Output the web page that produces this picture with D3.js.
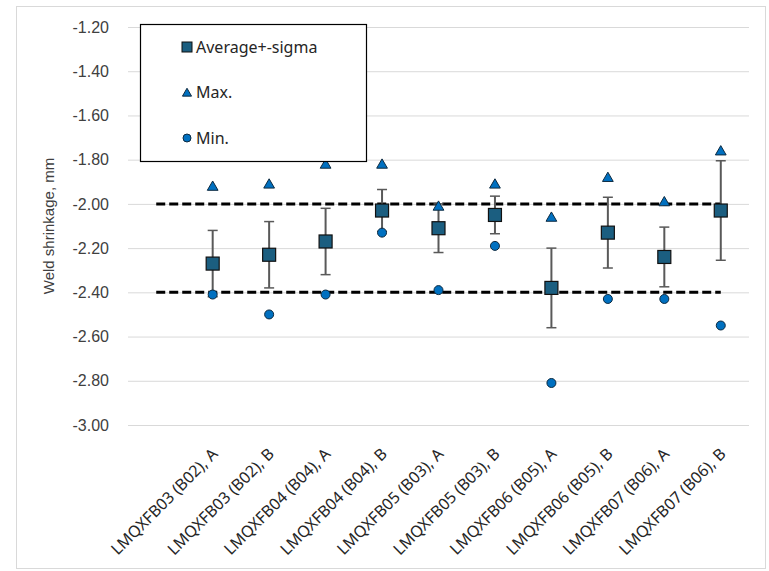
<!DOCTYPE html>
<html lang="en">
<head>
  <meta charset="UTF-8" />
  <title>Weld shrinkage</title>
  <script src="https://d3js.org/d3.v7.min.js"></script>
  <style>
    body {
      margin: 0;
      background-color: #ffffff;
    }
    svg {
      display: block;
    }
    .tick-label {
      font-family: 'Liberation Sans', Arial, sans-serif;
      font-size: 16px;
      fill: #404040;
    }
    .axis-title {
      font-family: 'Liberation Sans', Arial, sans-serif;
      font-size: 15px;
      fill: #404040;
    }
    .cat-label, .legend {
      font-family: 'Noto Sans', sans-serif;
      font-size: 16px;
      fill: #262626;
    }
  </style>
</head>
<body>
  <svg width="769" height="571"></svg>
  <script>
    // first category is empty: the limit lines start from it
    const categories = ["", "LMQXFB03 (B02), A", "LMQXFB03 (B02), B", "LMQXFB04 (B04), A", "LMQXFB04 (B04), B",
      "LMQXFB05 (B03), A", "LMQXFB05 (B03), B", "LMQXFB06 (B05), A", "LMQXFB06 (B05), B",
      "LMQXFB07 (B06), A", "LMQXFB07 (B06), B"];
    const average = [null, -2.27, -2.23, -2.17, -2.03, -2.11, -2.05, -2.38, -2.13, -2.24, -2.03];
    const sigma   = [null, 0.15, 0.15, 0.15, 0.095, 0.11, 0.085, 0.18, 0.16, 0.135, 0.225];
    const maxVals = [null, -1.92, -1.91, -1.82, -1.82, -2.01, -1.91, -2.06, -1.88, -1.99, -1.76];
    const minVals = [null, -2.41, -2.50, -2.41, -2.13, -2.39, -2.19, -2.81, -2.43, -2.43, -2.55];
    const upperLimit = -2.00;
    const lowerLimit = -2.40;
    const yTicks = [-1.2, -1.4, -1.6, -1.8, -2.0, -2.2, -2.4, -2.6, -2.8, -3.0];

    const svg = d3.select("svg");
    const plot = { left: 128, right: 749, top: 27, bottom: 425 };

    // chart border
    svg.append("rect")
      .attr("x", 16.5).attr("y", 6.5)
      .attr("width", 749).attr("height", 562)
      .attr("fill", "#fff").attr("stroke", "#d9d9d9");

    const x = d3.scaleBand().domain(categories.map((c, i) => i)).range([plot.left, plot.right]);
    const y = d3.scaleLinear().domain([-3.0, -1.2]).range([plot.bottom, plot.top]);
    const cx = i => x(i) + x.bandwidth() / 2;

    // gridlines + y labels
    svg.append("g")
      .attr("transform", `translate(${plot.left},0)`)
      .call(d3.axisLeft(y).tickValues(yTicks).tickFormat(d => d.toFixed(2))
        .tickSize(-(plot.right - plot.left)).tickPadding(19))
      .call(g => g.select(".domain").remove())
      .call(g => g.selectAll(".tick line").attr("stroke", "#d9d9d9"))
      .call(g => g.selectAll(".tick text").attr("class", "tick-label"));

    svg.append("text")
      .attr("class", "axis-title")
      .attr("transform", `translate(54,${(plot.top + plot.bottom) / 2}) rotate(-90)`)
      .attr("text-anchor", "middle")
      .text("Weld shrinkage, mm");

    // x labels, rotated
    categories.forEach((c, i) => {
      if (!c) return;
      svg.append("text")
        .attr("class", "cat-label")
        .attr("transform", `translate(${cx(i) + 6},${plot.bottom + 30}) rotate(-45)`)
        .attr("text-anchor", "end")
        .text(c);
    });

    // limit lines
    [upperLimit, lowerLimit].forEach(v => {
      svg.append("line")
        .attr("x1", cx(0)).attr("x2", cx(categories.length - 1))
        .attr("y1", y(v)).attr("y2", y(v))
        .attr("stroke", "#000").attr("stroke-width", 3)
        .attr("stroke-dasharray", "9,4");
    });

    const idx = d3.range(1, categories.length);

    // error bars
    const eb = svg.append("g").attr("stroke", "#595959").attr("stroke-width", 2);
    idx.forEach(i => {
      const top = y(average[i] + sigma[i]), bot = y(average[i] - sigma[i]);
      eb.append("line").attr("x1", cx(i)).attr("x2", cx(i)).attr("y1", top).attr("y2", bot);
      eb.append("line").attr("x1", cx(i) - 5).attr("x2", cx(i) + 5).attr("y1", top).attr("y2", top).attr("stroke-width", 1.5);
      eb.append("line").attr("x1", cx(i) - 5).attr("x2", cx(i) + 5).attr("y1", bot).attr("y2", bot).attr("stroke-width", 1.5);
    });

    const tri = d3.symbol().type(d3.symbolTriangle).size(50);

    // max
    svg.append("g").selectAll("path").data(idx).join("path")
      .attr("d", tri)
      .attr("transform", i => `translate(${cx(i)},${y(maxVals[i]) + 1})`)
      .attr("fill", "#0070c0").attr("stroke", "#0d2a40").attr("stroke-width", 1);

    // min
    svg.append("g").selectAll("circle").data(idx).join("circle")
      .attr("cx", cx).attr("cy", i => y(minVals[i])).attr("r", 4.5)
      .attr("fill", "#0070c0").attr("stroke", "#0d2a40").attr("stroke-width", 1);

    // average
    svg.append("g").selectAll("rect").data(idx).join("rect")
      .attr("x", i => cx(i) - 6.5).attr("y", i => y(average[i]) - 6.5)
      .attr("width", 13).attr("height", 13)
      .attr("fill", "#1b5e80").attr("stroke", "#111").attr("stroke-width", 1.2);

    // legend
    const lg = svg.append("g").attr("transform", "translate(140,24)");
    lg.append("rect").attr("x", 0.5).attr("y", 0.5).attr("width", 226).attr("height", 137)
      .attr("fill", "#fff").attr("stroke", "#000").attr("stroke-width", 1.2);
    const rows = [
      { label: "Average+-sigma", kind: "square" },
      { label: "Max.", kind: "triangle" },
      { label: "Min.", kind: "circle" }
    ];
    rows.forEach((r, k) => {
      const ry = 23 + k * 45.5;
      if (r.kind === "square") {
        lg.append("rect").attr("x", 42).attr("y", ry - 5).attr("width", 10).attr("height", 10)
          .attr("fill", "#1b5e80").attr("stroke", "#111").attr("stroke-width", 1);
      } else if (r.kind === "triangle") {
        lg.append("path").attr("d", d3.symbol().type(d3.symbolTriangle).size(36))
          .attr("transform", `translate(47,${ry + 1})`)
          .attr("fill", "#0070c0").attr("stroke", "#0d2a40");
      } else {
        lg.append("circle").attr("cx", 47).attr("cy", ry).attr("r", 4)
          .attr("fill", "#0070c0").attr("stroke", "#0d2a40");
      }
      lg.append("text").attr("class", "legend").attr("x", 56).attr("y", ry).attr("dy", "0.35em").text(r.label);
    });
  </script>
</body>
</html>
